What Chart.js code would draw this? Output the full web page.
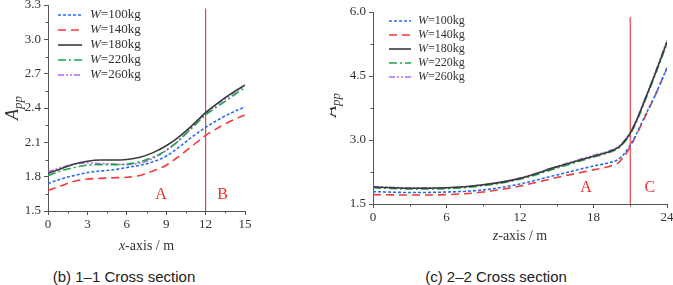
<!DOCTYPE html>
<html>
<head>
<meta charset="utf-8">
<script src="https://cdn.jsdelivr.net/npm/chart.js@4.4.0/dist/chart.umd.min.js"></script>
<style>
  html, body { margin: 0; padding: 0; background: #fff; overflow: hidden; width: 673px; height: 285px; }
  #wrap { position: relative; width: 673px; height: 285px; }
  .cv { position: absolute; }
  .cap { position: absolute; top: 268px; font: 15px "Liberation Sans", Arial, sans-serif; color: #222; white-space: nowrap; transform: translateX(-50%); }
</style>
</head>
<body>
<div id="wrap">
  <div class="cv" style="left:0;top:-20px;width:262px;height:280px"><canvas id="chartB"></canvas></div>
  <div class="cv" style="left:330px;top:-20px;width:355px;height:280px"><canvas id="chartC"></canvas></div>
  <div class="cap" style="left:124px">(b) 1–1 Cross section</div>
  <div class="cap" style="left:496px">(c) 2–2 Cross section</div>
</div>
<script>
// series names and styles
const seriesNames = ["100kg", "140kg", "180kg", "220kg", "260kg"];
const seriesColors = ["#2a6cf0", "#f03a3a", "#3a3a3a", "#1fa34a", "#b36cf0"];
const seriesDash = [[3, 2], [8, 5], [], [8, 3, 2, 3], [6, 2, 2, 2, 2, 2]];

// (b) 1-1 cross section, x-axis / m
const xPos = [0, 1, 2, 3, 4, 5, 6, 7, 8, 9, 10, 11, 12, 13, 14, 15];
const b100 = [1.74, 1.78, 1.81, 1.835, 1.85, 1.86, 1.88, 1.90, 1.93, 1.98, 2.06, 2.15, 2.23, 2.30, 2.36, 2.41];
const b140 = [1.68, 1.72, 1.76, 1.78, 1.785, 1.79, 1.795, 1.81, 1.85, 1.90, 1.98, 2.07, 2.16, 2.23, 2.29, 2.34];
const b180 = [1.83, 1.87, 1.91, 1.935, 1.945, 1.945, 1.95, 1.97, 2.01, 2.07, 2.15, 2.25, 2.36, 2.45, 2.53, 2.60];
const b220 = [1.81, 1.85, 1.88, 1.90, 1.905, 1.905, 1.91, 1.93, 1.97, 2.03, 2.12, 2.23, 2.34, 2.42, 2.50, 2.58];
const b260 = [1.84, 1.88, 1.91, 1.92, 1.915, 1.91, 1.905, 1.92, 1.96, 2.03, 2.12, 2.24, 2.35, 2.44, 2.52, 2.60];

// (c) 2-2 cross section, z-axis / m
const zPos = [0, 3, 6, 9, 12, 15, 18, 19, 20, 20.5, 21, 21.5, 22, 22.5, 23, 23.5, 24];
const c100 = [1.79, 1.77, 1.78, 1.83, 1.97, 2.18, 2.39, 2.45, 2.54, 2.68, 2.88, 3.14, 3.44, 3.74, 4.03, 4.36, 4.69];
const c140 = [1.72, 1.71, 1.72, 1.78, 1.92, 2.12, 2.30, 2.36, 2.46, 2.62, 2.84, 3.12, 3.42, 3.72, 4.02, 4.35, 4.69];
const c180 = [1.90, 1.87, 1.88, 1.95, 2.10, 2.37, 2.62, 2.70, 2.82, 2.96, 3.16, 3.45, 3.80, 4.16, 4.53, 4.91, 5.30];
const c220 = [1.88, 1.85, 1.86, 1.93, 2.08, 2.34, 2.60, 2.68, 2.80, 2.94, 3.14, 3.42, 3.77, 4.13, 4.50, 4.88, 5.27];
const c260 = [1.91, 1.88, 1.88, 1.95, 2.11, 2.38, 2.64, 2.72, 2.84, 2.98, 3.18, 3.47, 3.82, 4.18, 4.55, 4.94, 5.33];

// zone boundary lines and zone labels
const bBoundary = { x: 12, top: 3.27 };
const cBoundary = { x: 21, top: 5.88 };
const bZones = [{ text: "A", x: 8.6, y: 1.64 }, { text: "B", x: 13.3, y: 1.64 }];
const cZones = [{ text: "A", x: 17.4, y: 1.88 }, { text: "C", x: 22.6, y: 1.88 }];

const serif = "'Liberation Serif', 'Times New Roman', serif";

function makeSets(xs, cols) {
    const sets = cols.map((ys, i) => ({
        label: seriesNames[i],
        data: xs.map((x, j) => ({ x: x, y: ys[j] })),
        borderColor: seriesColors[i],
        borderDash: seriesDash[i],
        borderWidth: 1.6,
        pointRadius: 0,
        fill: false,
        cubicInterpolationMode: "monotone"
    }));
    return sets;
}

function boundarySet(b, yMin) {
    return {
        label: "",
        data: [{ x: b.x, y: b.top }, { x: b.x, y: yMin }],
        borderColor: "#f04040",
        borderWidth: 1.2,
        pointRadius: 0,
        isBoundary: true
    };
}

// axis titles, zone letters, minor ticks and the legend
const decor = {
    id: "decor",
    afterDraw(chart, args, opts) {
        const ctx = chart.ctx;
        const area = chart.chartArea;
        const xs = chart.scales.x, ys = chart.scales.y;
        ctx.save();

        // minor ticks
        ctx.strokeStyle = "#555";
        ctx.lineWidth = 1;
        ctx.beginPath();
        for (let v = xs.min + opts.xMinor; v < xs.max; v += opts.xStep) {
            const px = Math.round(xs.getPixelForValue(v)) + 0.5;
            ctx.moveTo(px, area.bottom);
            ctx.lineTo(px, area.bottom + 2.5);
        }
        for (let v = ys.min + opts.yMinor; v < ys.max; v += opts.yStep) {
            const py = Math.round(ys.getPixelForValue(v)) + 0.5;
            ctx.moveTo(area.left, py);
            ctx.lineTo(area.left - 2.5, py);
        }
        ctx.stroke();

        // zone letters
        ctx.fillStyle = "#f03030";
        ctx.font = "16px " + serif;
        ctx.textAlign = "center";
        ctx.textBaseline = "middle";
        opts.zones.forEach(z => {
            ctx.fillText(z.text, xs.getPixelForValue(z.x), ys.getPixelForValue(z.y));
        });

        // x title: italic variable + "-axis / m"
        ctx.fillStyle = "#333";
        ctx.textBaseline = "middle";
        ctx.textAlign = "left";
        const ty = area.bottom + opts.xTitleGap;
        ctx.font = "italic 14px " + serif;
        const w1 = ctx.measureText(opts.xVar).width;
        ctx.font = "14px " + serif;
        const w2 = ctx.measureText("-axis / m").width;
        let tx = (area.left + area.right) / 2 - (w1 + w2) / 2;
        ctx.font = "italic 14px " + serif;
        ctx.fillText(opts.xVar, tx, ty);
        ctx.font = "14px " + serif;
        ctx.fillText("-axis / m", tx + w1, ty);

        // y title A_pp
        ctx.save();
        ctx.translate(opts.yTitleX, opts.yTitleY);
        ctx.rotate(-Math.PI / 2);
        ctx.font = "italic 18px " + serif;
        ctx.textAlign = "left";
        ctx.textBaseline = "alphabetic";
        const wa = ctx.measureText("A").width;
        ctx.font = "italic 13px " + serif;
        const wp = ctx.measureText("pp").width;
        ctx.font = "italic 18px " + serif;
        ctx.fillText("A", -(wa + wp) / 2, 6);
        ctx.font = "italic 13px " + serif;
        ctx.fillText("pp", -(wa + wp) / 2 + wa, 10);
        ctx.restore();

        // legend
        const lg = opts.legend;
        chart.data.datasets.forEach((ds, i) => {
            if (ds.isBoundary) return;
            const y = area.top + lg.top + i * lg.step;
            ctx.strokeStyle = ds.borderColor;
            ctx.lineWidth = 1.6;
            ctx.setLineDash(ds.borderDash || []);
            ctx.beginPath();
            ctx.moveTo(area.left + lg.x0, y);
            ctx.lineTo(area.left + lg.x1, y);
            ctx.stroke();
            ctx.setLineDash([]);
            ctx.fillStyle = "#333";
            ctx.textBaseline = "middle";
            ctx.font = "italic " + lg.size + "px " + serif;
            const tx0 = area.left + lg.tx;
            ctx.fillText("W", tx0, y);
            const ww = ctx.measureText("W").width;
            ctx.font = lg.size + "px " + serif;
            ctx.fillText("=" + ds.label, tx0 + ww, y);
        });
        ctx.restore();
    }
};

function buildChart(id, sets, cfg) {
    new Chart(document.getElementById(id), {
        type: "line",
        data: { datasets: sets },
        plugins: [decor],
        options: {
            responsive: true,
            maintainAspectRatio: false,
            animation: false,
            layout: { padding: { top: cfg.padTop, right: cfg.padRight, left: 0, bottom: 0 } },
            plugins: {
                legend: { display: false },
                tooltip: { enabled: false },
                decor: cfg.decor
            },
            scales: {
                x: {
                    type: "linear",
                    min: cfg.xMin, max: cfg.xMax,
                    afterFit: s => { s.height = cfg.xHeight; },
                    afterBuildTicks: s => { s.ticks = cfg.xTicks.map(v => ({ value: v })); },
                    ticks: {
                        font: { family: serif, size: 13 },
                        color: "#333",
                        padding: 2,
                        maxRotation: 0,
                        autoSkip: false
                    },
                    grid: { drawOnChartArea: false, drawTicks: true, tickLength: 4, color: "#555" },
                    border: { color: "#555", width: 1 }
                },
                y: {
                    min: cfg.yMin, max: cfg.yMax,
                    afterFit: s => { s.width = cfg.yWidth; },
                    afterBuildTicks: s => { s.ticks = cfg.yTicks.map(v => ({ value: v })); },
                    ticks: {
                        font: { family: serif, size: 13 },
                        color: "#333",
                        padding: 3,
                        callback: v => v.toFixed(1)
                    },
                    grid: { drawOnChartArea: false, drawTicks: true, tickLength: 4, color: "#555" },
                    border: { color: "#555", width: 1 }
                }
            }
        }
    });
}

const bSets = makeSets(xPos, [b100, b140, b180, b220, b260]);
bSets.push(boundarySet(bBoundary, 1.5));
buildChart("chartB", bSets, {
    padTop: 25, padRight: 17, xHeight: 49, yWidth: 48,
    xMin: 0, xMax: 15, yMin: 1.5, yMax: 3.3,
    xTicks: [0, 3, 6, 9, 12, 15],
    yTicks: [1.5, 1.8, 2.1, 2.4, 2.7, 3.0, 3.3],
    decor: {
        xVar: "x", xStep: 3, xMinor: 1.5, yStep: 0.3, yMinor: 0.15,
        xTitleGap: 35, yTitleX: 12, yTitleY: 128,
        zones: bZones,
        legend: { x0: 10, x1: 34, tx: 42, top: 10, step: 15, size: 13 }
    }
});

const cSets = makeSets(zPos, [c100, c140, c180, c220, c260]);
cSets.push(boundarySet(cBoundary, 1.5));
buildChart("chartC", cSets, {
    padTop: 32, padRight: 18, xHeight: 56, yWidth: 43,
    xMin: 0, xMax: 24, yMin: 1.5, yMax: 6.0,
    xTicks: [0, 6, 12, 18, 24],
    yTicks: [1.5, 3.0, 4.5, 6.0],
    decor: {
        xVar: "z", xStep: 6, xMinor: 3, yStep: 1.5, yMinor: 0.75,
        xTitleGap: 32, yTitleX: 0, yTitleY: 125,
        zones: cZones,
        legend: { x0: 16, x1: 38, tx: 45, top: 9, step: 14, size: 12 }
    }
});
</script>
</body>
</html>
